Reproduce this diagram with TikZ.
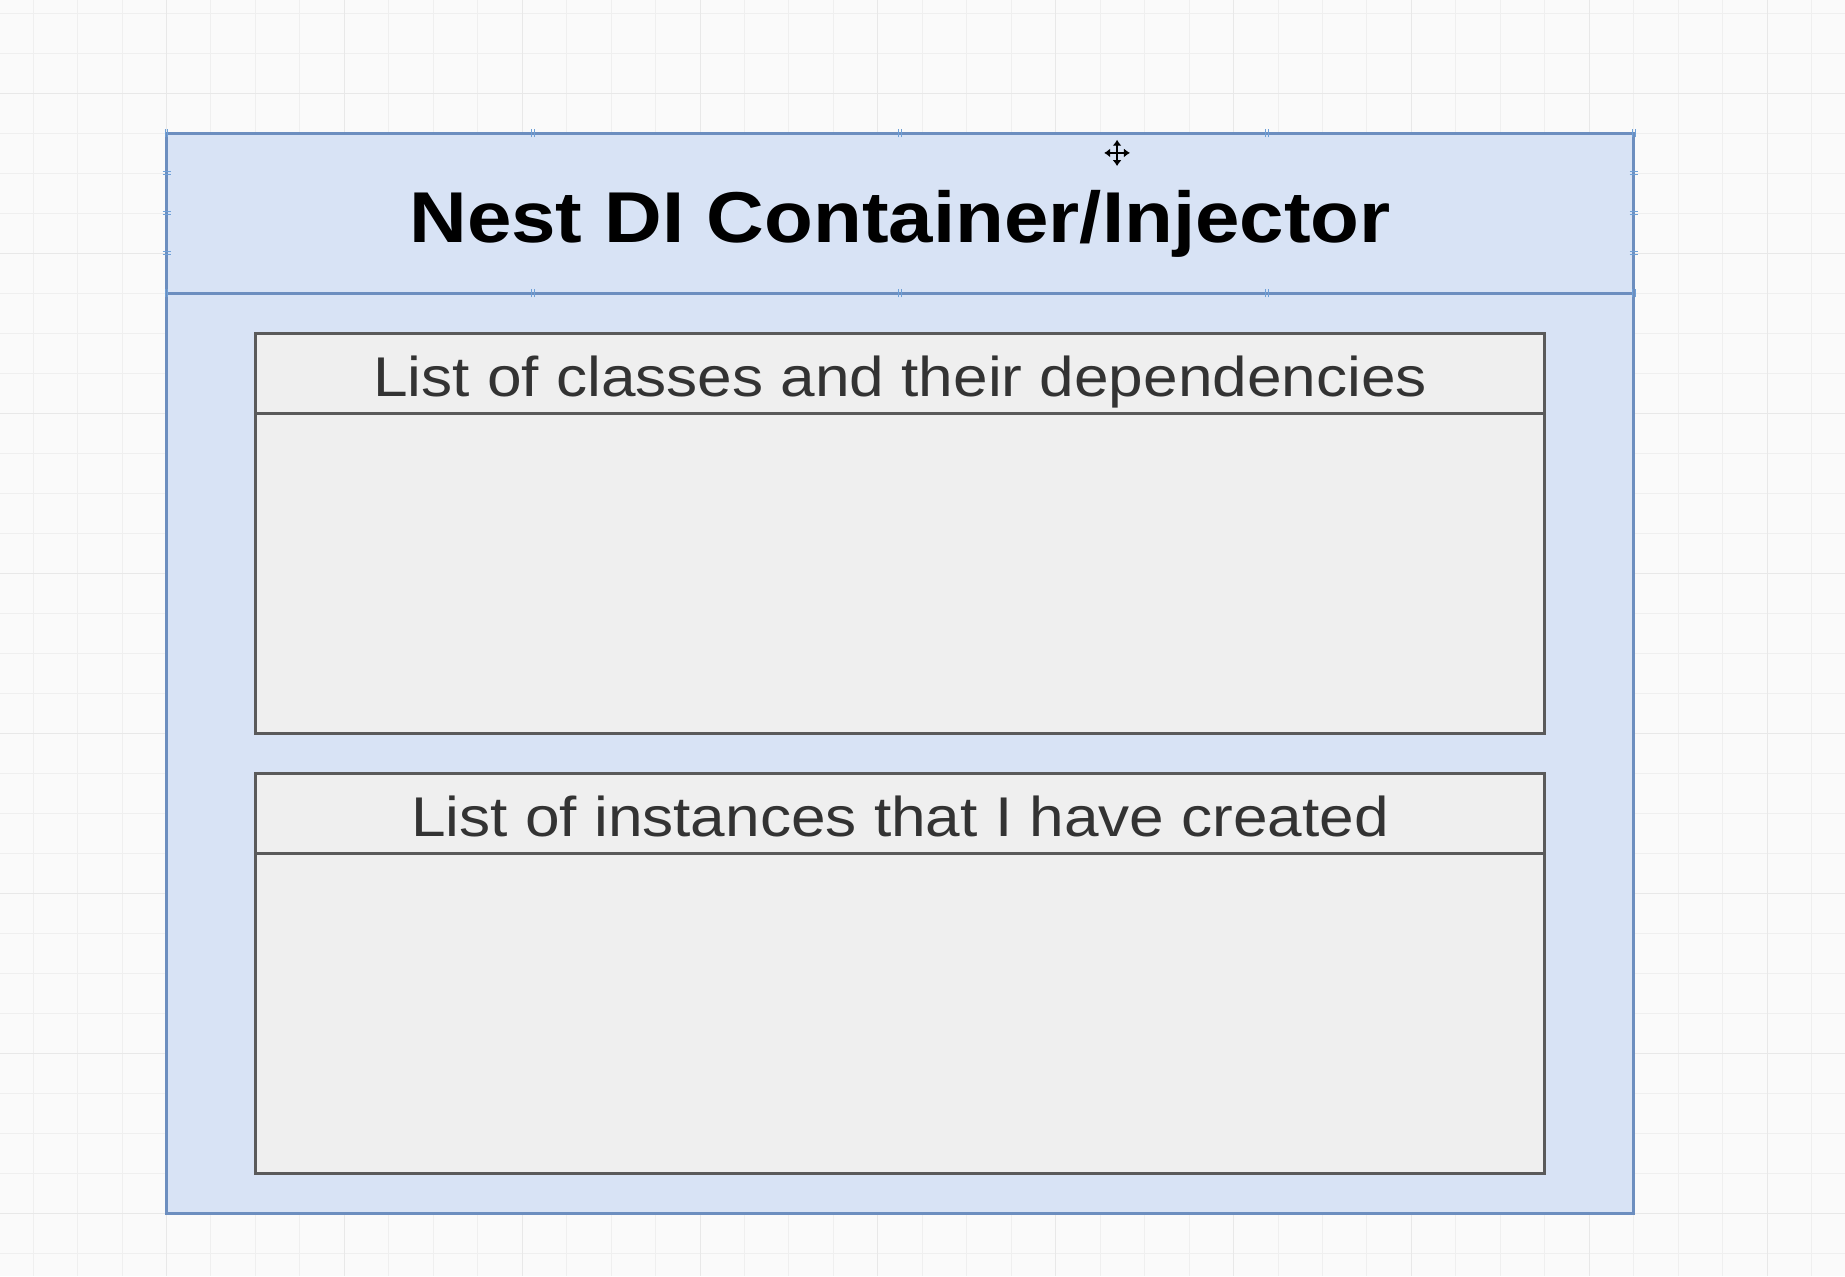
\documentclass[tikz,border=0pt]{standalone}
\usepackage{fontspec}
\setmainfont{Liberation Sans}[FakeStretch=1.11]
\usetikzlibrary{arrows.meta}
\definecolor{DIBlue}{RGB}{216,227,245}
\definecolor{DIDBlue}{RGB}{108,142,191}
\definecolor{DIGray}{RGB}{239,239,239}
\definecolor{DIDGray}{RGB}{90,90,90}
\definecolor{DIText}{RGB}{51,51,51}
\definecolor{DIPaper}{RGB}{250,250,250}
\definecolor{DIGrid}{RGB}{239,239,239}
\definecolor{DIGridMajor}{RGB}{232,232,232}
\definecolor{DIHandle}{RGB}{110,160,215}

\begin{document}
\begin{tikzpicture}[x=22.23pt, y=-20pt,
  list text/.style={font=\fontsize{28}{30}\selectfont, text=DIText, anchor=base},
  handle/.style={color=DIHandle, line width=0.5pt}]
\pgfmathsetmacro{\xs}{0} % x start of container (in grid cells)
\pgfmathsetmacro{\xe}{33} % x end of container
\pgfmathsetmacro{\ye}{27} % y end of container
\pgfmathsetmacro{\hh}{4} % header heigth
\pgfmathsetmacro{\xl}{2} % x start of both lists
\pgfmathsetmacro{\xr}{31} % x end of both lists

\useasboundingbox (-3.745,-3.333) rectangle (37.753,28.567);
\fill[DIPaper] (-3.745,-3.333) rectangle (37.753,28.567); % paper

% grid
\foreach \x in {-3,...,37}
 \draw[color=DIGrid, line width=0.5pt] (\x,-3.333) -- (\x,28.567);
\foreach \y in {-3,...,28}
 \draw[color=DIGrid, line width=0.5pt] (-3.745,\y) -- (37.753,\y);
\foreach \x in {0,4,...,36}
 \draw[color=DIGridMajor, line width=0.5pt] (\x,-3.333) -- (\x,28.567);
\foreach \y in {-1,3,...,27}
 \draw[color=DIGridMajor, line width=0.5pt] (-3.745,\y) -- (37.753,\y);

\filldraw[fill=DIBlue, draw=DIDBlue, line width=1.3pt] (\xs,0) rectangle (\xe,\ye); % container
\draw[DIDBlue, line width=1.3pt] (\xs,\hh) -- (\xe,\hh); % header line

% connection handles of the header
\foreach \x in {0,8.25,16.5,24.75,33}
 \foreach \y in {0,4}
 {
  \draw[handle] ([shift={(-0.7pt,-2pt)}]\x,\y) -- ([shift={(-0.7pt,2pt)}]\x,\y);
  \draw[handle] ([shift={(0.7pt,-2pt)}]\x,\y) -- ([shift={(0.7pt,2pt)}]\x,\y);
 }
\foreach \x in {0,33}
 \foreach \y in {1,2,3}
 {
  \draw[handle] ([shift={(-2pt,-0.7pt)}]\x,\y) -- ([shift={(2pt,-0.7pt)}]\x,\y);
  \draw[handle] ([shift={(-2pt,0.7pt)}]\x,\y) -- ([shift={(2pt,0.7pt)}]\x,\y);
 }

\node[font=\bfseries\fontsize{36}{40}\selectfont, anchor=base] (title) at (16.5,2.72) {Nest DI Container/Injector};

\filldraw[fill=DIGray, draw=DIDGray, line width=1.6pt] (\xl,5) rectangle (\xr,15); % classes list
\draw[DIDGray, line width=1.6pt] (\xl,7) -- (\xr,7);
\node[list text] (classes) at (16.5,6.59) {List of classes and their dependencies};

\filldraw[fill=DIGray, draw=DIDGray, line width=1.6pt] (\xl,16) rectangle (\xr,26); % instances list
\draw[DIDGray, line width=1.6pt] (\xl,18) -- (\xr,18);
\node[list text] (instances) at (16.5,17.59) {List of instances that I have created};

% move cursor
\draw[line width=1.3pt, {Latex[length=3pt,width=4.5pt]}-{Latex[length=3pt,width=4.5pt]}] (21.09,0.49) -- (21.67,0.49);
\draw[line width=1.3pt, {Latex[length=3pt,width=4.5pt]}-{Latex[length=3pt,width=4.5pt]}] (21.38,0.16) -- (21.38,0.82);

\end{tikzpicture}
\end{document}
